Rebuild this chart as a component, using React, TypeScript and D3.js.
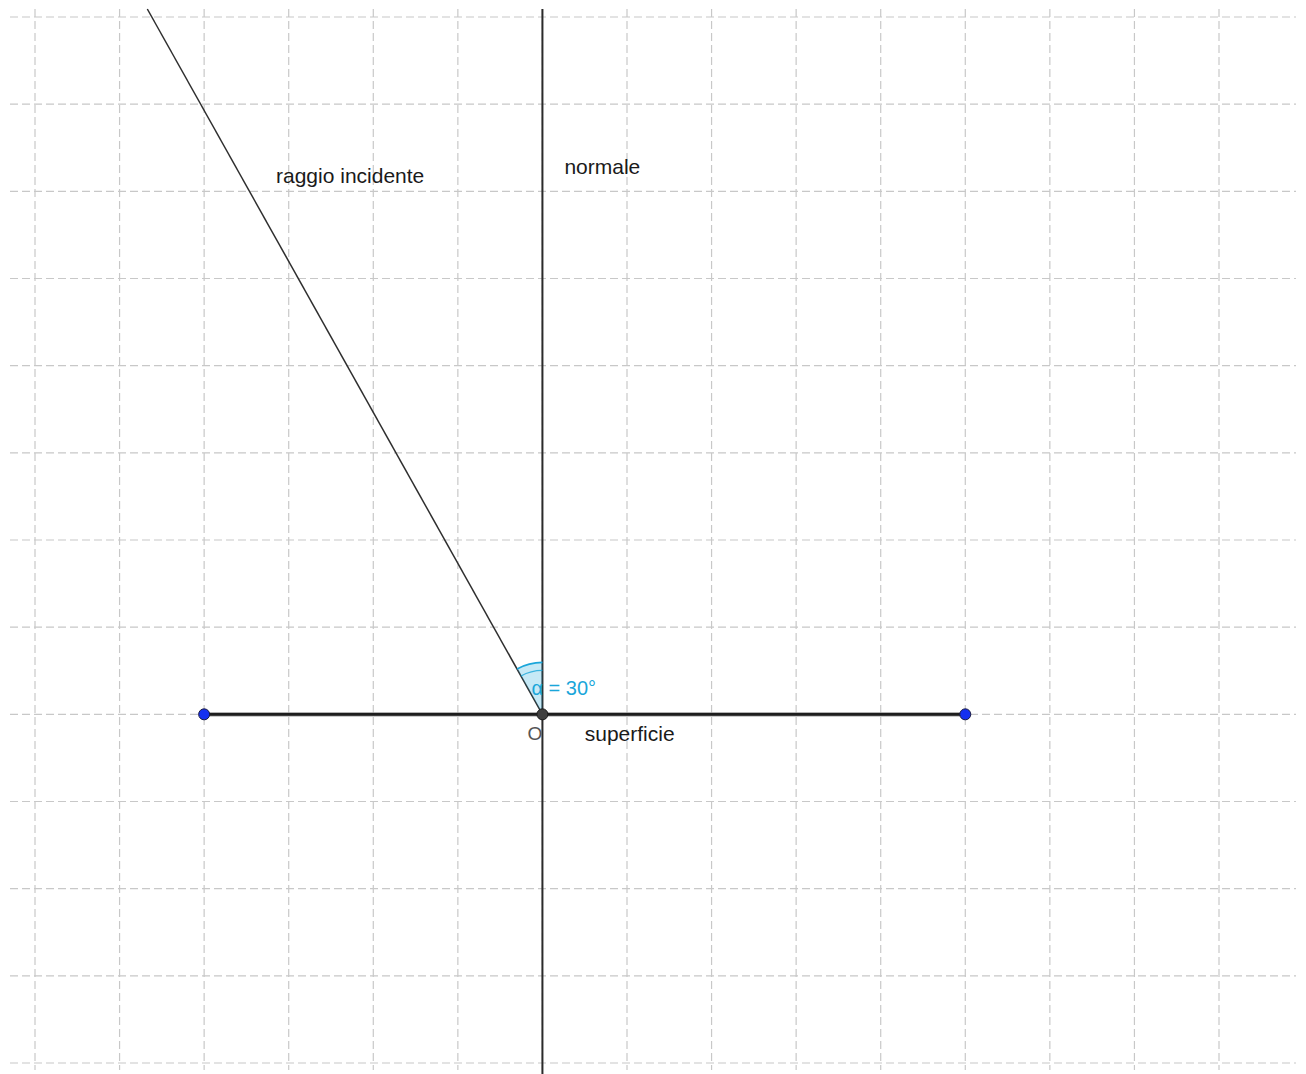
import React from "react";
import * as d3 from "d3";

// Grid ticks (in construction units, origin at O)
const gridX = [-6, -5, -4, -3, -2, -1, 0, 1, 2, 3, 4, 5, 6, 7, 8];
const gridY = [-4, -3, -2, -1, 0, 1, 2, 3, 4, 5, 6, 7, 8];

// Construction points
const surfacePoints = [
  { name: "A", x: -4, y: 0 },
  { name: "B", x: 5, y: 0 },
];
const origin = { name: "O", x: 0, y: 0 };
const incidenceAngleDeg = 30;

// Labels (position in units, relative to the construction)
const labels = [
  { text: "raggio incidente", x: -3.15, y: 6.1, color: "#1a1a1a" },
  { text: "normale", x: 0.26, y: 6.2, color: "#1a1a1a" },
  { text: "superficie", x: 0.5, y: -0.31, color: "#1a1a1a" },
];

const W = 1306;
const H = 1074;

export default function App() {
  const x = d3.scaleLinear().domain([-6, 8]).range([35, 1219]);
  const y = d3.scaleLinear().domain([-4, 8]).range([1063, 17]);

  const left = 10;
  const right = 1296;
  const top = 9;
  const bottom = 1074;

  const ox = x(origin.x);
  const oy = y(origin.y);

  // incident ray: from O up-left, 30° from the normal, until top edge
  const yTop = y.invert(top);
  const rayEnd = {
    x: origin.x - yTop * Math.tan((incidenceAngleDeg * Math.PI) / 180),
    y: yTop,
  };
  const rx = x(rayEnd.x);
  const ry = y(rayEnd.y);
  const screenAngle = Math.atan2(ox - rx, oy - ry); // from vertical, towards left

  const sector = d3.arc()({
    innerRadius: 0,
    outerRadius: 52,
    startAngle: -screenAngle,
    endAngle: 0,
  } as any) as string;
  const arcOuter = d3.arc()({
    innerRadius: 52,
    outerRadius: 52,
    startAngle: -screenAngle,
    endAngle: 0,
  } as any) as string;
  const arcInner = d3.arc()({
    innerRadius: 44,
    outerRadius: 44,
    startAngle: -screenAngle,
    endAngle: 0,
  } as any) as string;

  const angleColor = "#1aa6da";
  const font = "'Liberation Sans', Arial, sans-serif";

  return (
    <svg
      width={W}
      height={H}
      style={{ position: "absolute", left: 0, top: 0, background: "#fff" }}
    >
      <rect x={0} y={0} width={W} height={H} fill="#fff" />
      {/* grid */}
      <g stroke="#c8c8c8" strokeWidth={1.2} strokeDasharray="8,4" fill="none">
        {gridY.map((v) => (
          <line key={"h" + v} x1={left} x2={right} y1={y(v)} y2={y(v)} />
        ))}
        {gridX.map((v) => (
          <line key={"v" + v} x1={x(v)} x2={x(v)} y1={top} y2={1070} />
        ))}
      </g>

      {/* normal */}
      <line x1={ox} x2={ox} y1={top} y2={bottom} stroke="#2b2b2b" strokeWidth={2} />

      {/* incident ray */}
      <line x1={ox} y1={oy} x2={rx} y2={ry} stroke="#2e2e2e" strokeWidth={1.5} />

      {/* surface */}
      <line
        x1={x(surfacePoints[0].x)}
        x2={x(surfacePoints[1].x)}
        y1={y(0)}
        y2={y(0)}
        stroke="#9a9a9a"
        strokeWidth={4.2}
      />
      <line
        x1={x(surfacePoints[0].x)}
        x2={x(surfacePoints[1].x)}
        y1={y(0)}
        y2={y(0)}
        stroke="#1e1e1e"
        strokeWidth={2.7}
      />

      {/* angle */}
      <g transform={`translate(${ox},${oy})`}>
        <path d={sector} fill={angleColor} fillOpacity={0.25} stroke="none" />
        <path d={arcOuter} fill="none" stroke={angleColor} strokeWidth={1.6} />
        <path d={arcInner} fill="none" stroke={angleColor} strokeWidth={1.2} strokeOpacity={0.8} />
      </g>

      {/* points */}
      {surfacePoints.map((p) => (
        <circle
          key={p.name}
          cx={x(p.x)}
          cy={y(p.y)}
          r={5.5}
          fill="#1530f0"
          stroke="#1a1a40"
          strokeWidth={1}
        />
      ))}
      <circle cx={ox} cy={oy} r={5.5} fill="#404040" stroke="#1a1a1a" strokeWidth={1} />

      {/* labels */}
      <g fontFamily={font} fontSize={21}>
        {labels.map((l) => (
          <text key={l.text} x={x(l.x)} y={y(l.y)} fill={l.color}>
            {l.text}
          </text>
        ))}
        <text x={ox - 15} y={oy + 26} fill="#555" fontSize={19}>
          O
        </text>
        <text x={ox - 11} y={oy - 19} fill={angleColor} fontSize={20}>
          α = {incidenceAngleDeg}°
        </text>
      </g>
    </svg>
  );
}
